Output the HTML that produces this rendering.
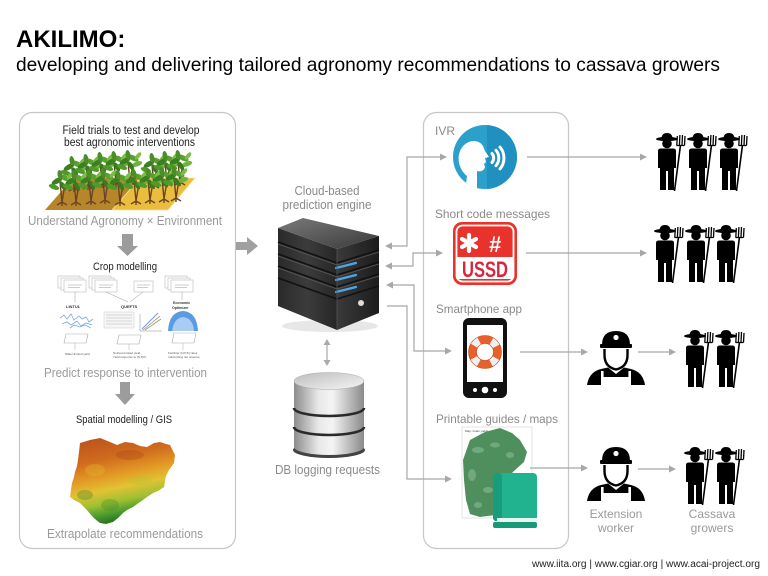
<!DOCTYPE html>
<html><head><meta charset="utf-8">
<style>
html,body{margin:0;padding:0;background:#fff;}
svg{display:block;}
text{font-family:"Liberation Sans",Arial,sans-serif;}
</style></head>
<body>
<svg width="768" height="576" viewBox="0 0 768 576" xmlns="http://www.w3.org/2000/svg">
<defs>
  <linearGradient id="srvL" x1="0" y1="0" x2="1" y2="0">
    <stop offset="0" stop-color="#2a2a2a"/><stop offset="0.5" stop-color="#3c3c3c"/><stop offset="1" stop-color="#262626"/>
  </linearGradient>
  <linearGradient id="srvR" x1="0" y1="0" x2="1" y2="0">
    <stop offset="0" stop-color="#3a3a3a"/><stop offset="1" stop-color="#1c1c1c"/>
  </linearGradient>
  <linearGradient id="srvT" x1="0" y1="0" x2="1" y2="1">
    <stop offset="0" stop-color="#7a7a7a"/><stop offset="1" stop-color="#3a3a3a"/>
  </linearGradient>
  <linearGradient id="silver" x1="0" y1="0" x2="1" y2="0">
    <stop offset="0" stop-color="#8c8c8c"/><stop offset="0.35" stop-color="#e8e8e8"/><stop offset="0.55" stop-color="#f4f4f4"/><stop offset="1" stop-color="#8a8a8a"/>
  </linearGradient>
  <linearGradient id="silverTop" x1="0" y1="0" x2="1" y2="1">
    <stop offset="0" stop-color="#bdbdbd"/><stop offset="1" stop-color="#f5f5f5"/>
  </linearGradient>
  <linearGradient id="nig" x1="0" y1="0" x2="0.25" y2="1">
    <stop offset="0" stop-color="#b9501a"/><stop offset="0.3" stop-color="#cf6a1e"/>
    <stop offset="0.5" stop-color="#e39a25"/><stop offset="0.65" stop-color="#e2c234"/>
    <stop offset="0.8" stop-color="#9fbf32"/><stop offset="0.92" stop-color="#4b9a2e"/><stop offset="1" stop-color="#2e7a22"/>
  </linearGradient>
  <clipPath id="ivrc"><circle cx="485" cy="157" r="32"/></clipPath>

  <symbol id="farmer" viewBox="0 0 32 58">
    <path d="M6.5,6 Q6.5,0 12,0 Q17.5,0 17.5,6 Z" fill="#000"/>
    <ellipse cx="12" cy="6" rx="11" ry="2.2" fill="#000"/>
    <circle cx="12" cy="10.5" r="4.8" fill="#000"/>
    <path d="M3,18 Q3,15.5 6,15.5 L18,15.5 Q21,15.5 21,18 L21,35 L19,35 L19,57 L13,57 L13,38 L11,38 L11,57 L5,57 L5,35 L3,35 Z" fill="#000"/>
    <line x1="19.5" y1="58" x2="25.5" y2="12" stroke="#000" stroke-width="1.6"/>
    <path d="M21.5,12.5 L29.5,12.5 M21.8,12.5 L22.3,3 M24.4,12.5 L24.9,2 M27,12.5 L27.5,2 M29.5,12.5 L30,3" stroke="#000" stroke-width="1.3" fill="none"/>
  </symbol>

  <symbol id="worker" viewBox="0 0 58 54">
    <path d="M15,14 Q15,0 29,0 Q43,0 43,14 Z" fill="#000"/>
    <circle cx="29" cy="6.5" r="2.6" fill="#fff"/>
    <rect x="13" y="13" width="32" height="4" rx="1" fill="#000"/>
    <path d="M17.5,18 L17.5,24 Q17.5,36 29,38.5 Q40.5,36 40.5,24 L40.5,18" fill="#fff" stroke="#000" stroke-width="2.4"/>
    <path d="M0,54 Q2,41 14,38 L21,36.5 L29,43 L37,36.5 L44,38 Q56,41 58,54 Z" fill="#000"/>
    <rect x="14" y="40" width="2.6" height="8" fill="#fff"/>
    <rect x="41.4" y="40" width="2.6" height="8" fill="#fff"/>
    <rect x="14" y="46" width="30" height="8" fill="#fff"/>
  </symbol>

  <symbol id="plant" viewBox="-12 -30 24 34" overflow="visible">
    <path d="M0,0 L-2,-20 M0,0 L3,-18 M0,0 L-5,3 M0,0 L5,3 M0,0 L0,4" stroke="#6b4426" stroke-width="1.4" fill="none"/>
    <ellipse cx="-5" cy="-21" rx="6" ry="2.6" fill="#3d7e22" transform="rotate(-30 -5 -21)"/>
    <ellipse cx="3" cy="-24" rx="6" ry="2.6" fill="#5aa02e" transform="rotate(25 3 -24)"/>
    <ellipse cx="-2" cy="-27" rx="5" ry="2.4" fill="#4b8e28" transform="rotate(80 -2 -27)"/>
    <ellipse cx="7" cy="-18" rx="5.5" ry="2.4" fill="#6cb53a" transform="rotate(-20 7 -18)"/>
    <ellipse cx="-8" cy="-15" rx="5.5" ry="2.4" fill="#4f9a2a" transform="rotate(20 -8 -15)"/>
    <ellipse cx="1" cy="-16" rx="5" ry="2.2" fill="#3b7a20" transform="rotate(60 1 -16)"/>
    <ellipse cx="8" cy="-26" rx="4.5" ry="2" fill="#79be45" transform="rotate(-50 8 -26)"/>
  </symbol>
</defs>

<rect width="768" height="576" fill="#fff"/>

<!-- Title -->
<text x="16" y="47" font-size="24" font-weight="bold" fill="#000">AKILIMO:</text>
<text x="16" y="71" font-size="19.5" fill="#000" textLength="704" lengthAdjust="spacingAndGlyphs">developing and delivering tailored agronomy recommendations to cassava growers</text>

<!-- Panels -->
<rect x="19.5" y="112.5" width="216" height="436" rx="13" fill="none" stroke="#c6c6c6" stroke-width="1.2"/>
<rect x="423.5" y="112.5" width="145" height="436" rx="13" fill="none" stroke="#c6c6c6" stroke-width="1.2"/>

<!-- Left panel content -->
<text x="131" y="134" font-size="11.5" fill="#222" text-anchor="middle" textLength="137" lengthAdjust="spacingAndGlyphs">Field trials to test and develop</text>
<text x="129.5" y="146" font-size="11.5" fill="#222" text-anchor="middle" textLength="131" lengthAdjust="spacingAndGlyphs">best agronomic interventions</text>

<!-- field image -->
<polygon points="45,210 112,210 140,178 73,178" fill="#b7862a"/>
<polygon points="112,210 168,210 195,178 140,178" fill="#eabd3e" stroke="#f6e2a0" stroke-width="0.8"/>
<g>
  <use href="#plant" x="62" y="158" width="24" height="34"/>
  <use href="#plant" x="76" y="156" width="24" height="34"/>
  <use href="#plant" x="90" y="154" width="24" height="34"/>
  <use href="#plant" x="104" y="153" width="24" height="34"/>
  <use href="#plant" x="118" y="152" width="24" height="34"/>
  <use href="#plant" x="142" y="155" width="24" height="34"/>
  <use href="#plant" x="155" y="153" width="24" height="34"/>
  <use href="#plant" x="168" y="152" width="24" height="34"/>
  <use href="#plant" x="50" y="172" width="24" height="34"/>
  <use href="#plant" x="64" y="172" width="24" height="34"/>
  <use href="#plant" x="79" y="171" width="24" height="34"/>
  <use href="#plant" x="93" y="170" width="24" height="34"/>
  <use href="#plant" x="108" y="172" width="24" height="34"/>
  <use href="#plant" x="124" y="171" width="24" height="34"/>
  <use href="#plant" x="138" y="170" width="24" height="34"/>
  <use href="#plant" x="152" y="169" width="24" height="34"/>
  <use href="#plant" x="164" y="168" width="24" height="34"/>
</g>

<text x="28" y="225" font-size="13" fill="#9a9a9a" textLength="194" lengthAdjust="spacingAndGlyphs">Understand Agronomy &#215; Environment</text>

<!-- down arrow 1 -->
<rect x="122" y="234" width="11" height="12" fill="#9c9c9c"/>
<polygon points="117,246 138,246 127.5,256" fill="#9c9c9c"/>

<text x="93" y="270" font-size="11" fill="#222" textLength="64" lengthAdjust="spacingAndGlyphs">Crop modelling</text>

<!-- crop modelling mini diagram -->
<g stroke="#bbb" stroke-width="0.6" fill="#fff">
  <rect x="58" y="276" width="22" height="12"/><rect x="61" y="278" width="22" height="12"/><rect x="64" y="280" width="22" height="12"/>
  <rect x="89" y="276" width="22" height="12"/><rect x="92" y="278" width="22" height="12"/><rect x="95" y="280" width="22" height="12"/>
  <rect x="134" y="281" width="19" height="11"/>
  <rect x="165" y="276" width="22" height="12"/><rect x="168" y="278" width="22" height="12"/><rect x="171" y="280" width="22" height="12"/>
</g>
<g stroke="#999" stroke-width="0.5">
  <line x1="68" y1="285" x2="82" y2="285"/><line x1="68" y1="287.5" x2="80" y2="287.5"/>
  <line x1="99" y1="285" x2="113" y2="285"/><line x1="99" y1="287.5" x2="111" y2="287.5"/>
  <line x1="137" y1="285" x2="150" y2="285"/><line x1="137" y1="287.5" x2="148" y2="287.5"/>
  <line x1="175" y1="285" x2="189" y2="285"/><line x1="175" y1="287.5" x2="187" y2="287.5"/>
  <line x1="75" y1="292" x2="75" y2="302"/><line x1="106" y1="292" x2="128" y2="302"/><line x1="143" y1="292" x2="130" y2="302"/><line x1="182" y1="292" x2="182" y2="300"/>
</g>
<text x="66" y="308" font-size="4" font-weight="bold" fill="#333">LINTUL</text>
<text x="121" y="308" font-size="4" font-weight="bold" fill="#333">QUEFTS</text>
<text x="173" y="304" font-size="3.6" font-weight="bold" fill="#333">Economic</text>
<text x="172" y="309" font-size="3.6" font-weight="bold" fill="#333">Optimizer</text>
<path d="M60,318 l4,-3 l3,4 l4,-5 l3,6 l5,-4 l3,3 l4,-2 l3,5 l4,-3 M62,324 l5,-2 l4,3 l6,-4 l4,5 l5,-3 l6,2 M70,328 l4,-3 l6,2 l5,-2 l6,3" stroke="#7fa9d8" stroke-width="0.8" fill="none"/>
<rect x="104" y="312" width="30" height="16" fill="#f6f6f6" stroke="#ccc" stroke-width="0.5"/>
<g stroke="#aaa" stroke-width="0.4"><line x1="106" y1="315" x2="132" y2="315"/><line x1="106" y1="318" x2="132" y2="318"/><line x1="106" y1="321" x2="132" y2="321"/><line x1="106" y1="324" x2="132" y2="324"/></g>
<line x1="140" y1="314" x2="140" y2="331" stroke="#888" stroke-width="0.5"/><line x1="140" y1="331" x2="162" y2="331" stroke="#888" stroke-width="0.5"/>
<line x1="142" y1="329" x2="158" y2="313" stroke="#6aa0e0" stroke-width="1"/>
<line x1="143" y1="330" x2="160" y2="316" stroke="#e07070" stroke-width="0.8"/>
<line x1="145" y1="330" x2="161" y2="319" stroke="#70b070" stroke-width="0.8"/>
<path d="M168,331 Q169,312 183,311 Q197,312 198,331 Z" fill="#5b9be0"/>
<path d="M172,331 Q174,318 183,317 Q193,318 194,331 Z" fill="#a9cdf2"/>
<g stroke="#aaa" stroke-width="0.6" fill="#fff">
  <polygon points="66,334 88,334 86,343 64,343"/>
  <polygon points="119,335 141,335 139,344 117,344"/>
  <polygon points="174,333 196,333 194,343 172,343"/>
</g>
<g stroke="#aaa" stroke-width="0.5"><line x1="75" y1="343" x2="75" y2="350"/><line x1="129" y1="344" x2="129" y2="350"/><line x1="183" y1="343" x2="183" y2="350"/></g>
<g font-size="3" fill="#555">
  <text x="65" y="355">Water-limited yield</text>
  <text x="113" y="354">Nutrient-limited yield</text>
  <text x="113" y="358">Yield response to (N,P,K)</text>
  <text x="168" y="354">Fertilizer (N,P,K) rates</text>
  <text x="168" y="358">maximizing net revenue</text>
</g>

<text x="44" y="377" font-size="13" fill="#9a9a9a" textLength="163" lengthAdjust="spacingAndGlyphs">Predict response to intervention</text>

<!-- down arrow 2 -->
<rect x="120" y="382" width="10" height="12" fill="#9c9c9c"/>
<polygon points="115,394 135,394 125,405" fill="#9c9c9c"/>

<text x="76" y="423" font-size="11" fill="#222" textLength="96" lengthAdjust="spacingAndGlyphs">Spatial modelling / GIS</text>

<!-- Nigeria map -->
<path d="M80,443 L90,440 L100,438 L110,442 L117,445 L125,442 L133,443 L140,446 L147,447 L154,443 L160,442 L166,444 L170,445 L175,455 L174,463 L169,470 L166,476 L164,487 L158,491 L153,493 L147,497 L140,502 L133,507 L127,510 L123,513 L118,518 L113,522 L106,524 L100,523 L95,519 L92,516 L86,509 L80,503 L74,500 L70,497 L71,490 L72,483 L74,477 L75,472 L77,466 L78,460 L79,452 Z" fill="url(#nig)"/>
<g opacity="0.3">
  <ellipse cx="95" cy="470" rx="10" ry="6" fill="#e8c030"/>
  <ellipse cx="140" cy="480" rx="12" ry="5" fill="#b8c030"/>
  <ellipse cx="85" cy="495" rx="8" ry="5" fill="#2e7a22"/>
  <ellipse cx="130" cy="455" rx="14" ry="5" fill="#a84014"/>
  <ellipse cx="110" cy="505" rx="9" ry="6" fill="#3a8a2a"/>
</g>

<text x="47" y="538" font-size="13" fill="#9a9a9a" textLength="156" lengthAdjust="spacingAndGlyphs">Extrapolate recommendations</text>

<!-- right arrow to server -->
<rect x="236" y="242" width="11" height="8" fill="#a0a0a0"/>
<polygon points="247,237 258,246 247,255" fill="#a0a0a0"/>

<!-- Cloud engine -->
<text x="327" y="195" font-size="12.5" fill="#8a8a8a" text-anchor="middle" textLength="65" lengthAdjust="spacingAndGlyphs">Cloud-based</text>
<text x="327" y="209" font-size="12.5" fill="#8a8a8a" text-anchor="middle" textLength="89" lengthAdjust="spacingAndGlyphs">prediction engine</text>

<!-- server -->
<ellipse cx="330" cy="326" rx="48" ry="6" fill="#ddd" opacity="0.7"/>
<polygon points="278,228 337,249 337,330 278,306" fill="url(#srvL)"/>
<polygon points="337,249 379,236 379,313 337,330" fill="url(#srvR)"/>
<polygon points="278,228 303,218 379,236 337,249" fill="url(#srvT)"/>
<g stroke="#111" stroke-width="1.6">
  <line x1="278" y1="242" x2="337" y2="263"/><line x1="337" y1="263" x2="379" y2="250"/>
  <line x1="278" y1="254" x2="337" y2="275"/><line x1="337" y1="275" x2="379" y2="262"/>
  <line x1="278" y1="266" x2="337" y2="287"/><line x1="337" y1="287" x2="379" y2="274"/>
  <line x1="278" y1="278" x2="337" y2="299"/><line x1="337" y1="299" x2="379" y2="286"/>
</g>
<g stroke="#5a5a5a" stroke-width="0.7">
  <line x1="278" y1="244" x2="337" y2="265"/><line x1="337" y1="265" x2="379" y2="252"/>
  <line x1="278" y1="256" x2="337" y2="277"/><line x1="337" y1="277" x2="379" y2="264"/>
  <line x1="278" y1="268" x2="337" y2="289"/><line x1="337" y1="289" x2="379" y2="276"/>
</g>
<g stroke="#4aa8e8" stroke-width="2.2" stroke-linecap="round">
  <line x1="336" y1="268" x2="356" y2="263"/>
  <line x1="336" y1="280" x2="356" y2="275"/>
  <line x1="336" y1="292" x2="356" y2="287"/>
</g>
<circle cx="361" cy="303" r="3" fill="#ddd"/>
<line x1="337" y1="249" x2="337" y2="330" stroke="#555" stroke-width="0.8"/>

<!-- double arrow server-DB -->
<line x1="327" y1="343" x2="327" y2="362" stroke="#aaa" stroke-width="1.2"/>
<polygon points="327,339 323.5,345 330.5,345" fill="#aaa"/>
<polygon points="327,366 323.5,360 330.5,360" fill="#aaa"/>

<!-- DB cylinder -->
<ellipse cx="329" cy="450" rx="36" ry="8" fill="#222" opacity="0.85"/>
<rect x="294" y="381" width="70" height="66" fill="url(#silver)"/>
<ellipse cx="329" cy="447" rx="35" ry="8" fill="url(#silver)"/>
<path d="M294,408 A35,8 0 0 0 364,408" stroke="#2a2a2a" stroke-width="2.6" fill="none"/>
<path d="M294,427 A35,8 0 0 0 364,427" stroke="#2a2a2a" stroke-width="2.6" fill="none"/>
<ellipse cx="329" cy="381" rx="35" ry="8.5" fill="url(#silverTop)" stroke="#aaa" stroke-width="0.5"/>

<text x="275" y="474" font-size="13" fill="#8a8a8a" textLength="105" lengthAdjust="spacingAndGlyphs">DB logging requests</text>

<!-- server <-> channel connectors -->
<g stroke="#a8a8a8" stroke-width="1.2" fill="none">
  <polyline points="389,246 407,246 407,157 441,157"/>
  <polyline points="389,266 413,266 413,253 437,253"/>
  <polyline points="390,285 414,285 414,351 446,351"/>
  <polyline points="387,306 407,306 407,479 446,479"/>
</g>
<g fill="#a8a8a8">
  <polygon points="385,246 392,242.5 392,249.5"/>
  <polygon points="447,157 440,153.5 440,160.5"/>
  <polygon points="385,266 392,262.5 392,269.5"/>
  <polygon points="443,253 436,249.5 436,256.5"/>
  <polygon points="386,285 393,281.5 393,288.5"/>
  <polygon points="452,351 445,347.5 445,354.5"/>
  <polygon points="452,479 445,475.5 445,482.5"/>
</g>

<!-- IVR -->
<text x="435" y="135" font-size="12" fill="#8a8a8a">IVR</text>
<circle cx="485" cy="157" r="32" fill="#2aa0cb"/>
<rect x="487" y="124" width="32" height="66" fill="#1f90bf" clip-path="url(#ivrc)"/>
<path d="M465,192 L467,176 C459,170 456,157 461,149 C466,140 478,138 483,146 L485,151 L489,157 L485,158 L486,162 L484,164 L485,167 C484,171 480,172 477,171 L477,192 Z" fill="#fff" clip-path="url(#ivrc)"/>
<g stroke="#fff" stroke-width="3" fill="none" stroke-linecap="round">
  <path d="M492,153.5 A7,7 0 0 1 492,162.5"/>
  <path d="M496,150.3 A12,12 0 0 1 496,165.7"/>
  <path d="M500,147.1 A17,17 0 0 1 500,168.9"/>
</g>

<!-- USSD -->
<text x="435" y="218" font-size="12" fill="#8a8a8a" textLength="115" lengthAdjust="spacingAndGlyphs">Short code messages</text>
<rect x="453" y="222" width="64" height="63" rx="9" fill="#e8322b"/>
<rect x="456.5" y="225.5" width="57" height="56" rx="6" fill="none" stroke="#fff" stroke-width="1.8"/>
<rect x="456.5" y="257" width="57" height="22" fill="#fff"/>
<g stroke="#fff" stroke-width="4.2" stroke-linecap="round">
  <line x1="469" y1="235" x2="469" y2="251"/>
  <line x1="462" y1="239" x2="476" y2="247"/>
  <line x1="462" y1="247" x2="476" y2="239"/>
</g>
<text x="489" y="252" font-size="22" font-weight="bold" fill="#fff">#</text>
<text x="485" y="277" font-size="22" font-weight="bold" fill="#d8263c" text-anchor="middle" textLength="46" lengthAdjust="spacingAndGlyphs">USSD</text>

<!-- Smartphone -->
<text x="436" y="313" font-size="12" fill="#8a8a8a" textLength="86" lengthAdjust="spacingAndGlyphs">Smartphone app</text>
<rect x="463" y="318" width="44" height="80" rx="6" fill="#111"/>
<rect x="467" y="325" width="36" height="57" fill="#fff"/>
<circle cx="475" cy="390" r="2" fill="#fff"/>
<circle cx="485" cy="390" r="3.3" fill="#fff"/>
<circle cx="495" cy="390" r="2" fill="#fff"/>
<circle cx="485" cy="352" r="12.5" fill="none" stroke="#e8602a" stroke-width="8"/>
<circle cx="485" cy="352" r="12.5" fill="none" stroke="#f0f0f0" stroke-width="8" stroke-dasharray="7 12.63" stroke-dashoffset="-6.3"/>
<circle cx="485" cy="352" r="16.5" fill="none" stroke="#b8481a" stroke-width="0.6"/>
<circle cx="485" cy="352" r="8.5" fill="none" stroke="#b8481a" stroke-width="0.6"/>

<!-- Printable guides -->
<text x="436" y="423" font-size="12" fill="#8a8a8a" textLength="122" lengthAdjust="spacingAndGlyphs">Printable guides / maps</text>
<rect x="462" y="427" width="70" height="91" fill="#fff" stroke="#ddd" stroke-width="0.8"/>
<text x="465" y="432" font-size="3" fill="#444">Map: Grain yields</text>
<path d="M470,440 L485,432 L500,428 L512,433 L520,440 L527,452 L524,462 L515,470 L505,480 L500,500 L495,515 L480,517 L470,514 L466,500 L464,480 L463,460 Z" fill="#4f8f5e"/>
<g opacity="0.45" fill="#9cc8a6">
  <ellipse cx="478" cy="450" rx="6" ry="3"/><ellipse cx="495" cy="445" rx="5" ry="2.5"/>
  <ellipse cx="472" cy="475" rx="4" ry="6"/><ellipse cx="488" cy="490" rx="5" ry="3"/>
  <ellipse cx="510" cy="455" rx="4" ry="3"/><ellipse cx="478" cy="505" rx="4" ry="3"/>
</g>
<rect x="493" y="473" width="44" height="48" rx="4" fill="#21b38f"/>
<rect x="493" y="473" width="9" height="48" rx="3" fill="#189d7c"/>
<rect x="497" y="518" width="40" height="4" fill="#eaf5f1"/>
<rect x="493" y="522" width="44" height="6" rx="2" fill="#179a78"/>

<!-- channel -> people connectors -->
<g stroke="#a8a8a8" stroke-width="1.2">
  <line x1="527" y1="157" x2="641" y2="157"/>
  <line x1="526" y1="253" x2="641" y2="253"/>
  <line x1="520" y1="352" x2="582" y2="352"/>
  <line x1="530" y1="468" x2="582" y2="468"/>
  <line x1="638" y1="352" x2="670" y2="352"/>
  <line x1="638" y1="469" x2="670" y2="469"/>
</g>
<g fill="#a8a8a8">
  <polygon points="647,157 640,153.5 640,160.5"/>
  <polygon points="647,253 640,249.5 640,256.5"/>
  <polygon points="588,352 581,348.5 581,355.5"/>
  <polygon points="588,468 581,464.5 581,471.5"/>
  <polygon points="676,352 669,348.5 669,355.5"/>
  <polygon points="676,469 669,465.5 669,472.5"/>
</g>

<!-- farmers -->
<use href="#farmer" x="655" y="133" width="32" height="58"/>
<use href="#farmer" x="686" y="133" width="32" height="58"/>
<use href="#farmer" x="717" y="133" width="32" height="58"/>
<use href="#farmer" x="653" y="225" width="32" height="58"/>
<use href="#farmer" x="684" y="225" width="32" height="58"/>
<use href="#farmer" x="714" y="225" width="32" height="58"/>
<use href="#farmer" x="683" y="330" width="32" height="58"/>
<use href="#farmer" x="714" y="330" width="32" height="58"/>
<use href="#farmer" x="683" y="447" width="32" height="58"/>
<use href="#farmer" x="714" y="447" width="32" height="58"/>

<!-- extension workers -->
<use href="#worker" x="587" y="331" width="58" height="54"/>
<use href="#worker" x="587" y="447" width="58" height="54"/>

<text x="616" y="518" font-size="12" fill="#9a9a9a" text-anchor="middle">Extension</text>
<text x="616" y="532" font-size="12" fill="#9a9a9a" text-anchor="middle">worker</text>
<text x="712" y="518" font-size="12" fill="#9a9a9a" text-anchor="middle">Cassava</text>
<text x="712" y="532" font-size="12" fill="#9a9a9a" text-anchor="middle">growers</text>

<!-- footer -->
<text x="760" y="567" font-size="10" fill="#222" text-anchor="end" textLength="228" lengthAdjust="spacingAndGlyphs">www.iita.org | www.cgiar.org | www.acai-project.org</text>
</svg>
</body></html>
